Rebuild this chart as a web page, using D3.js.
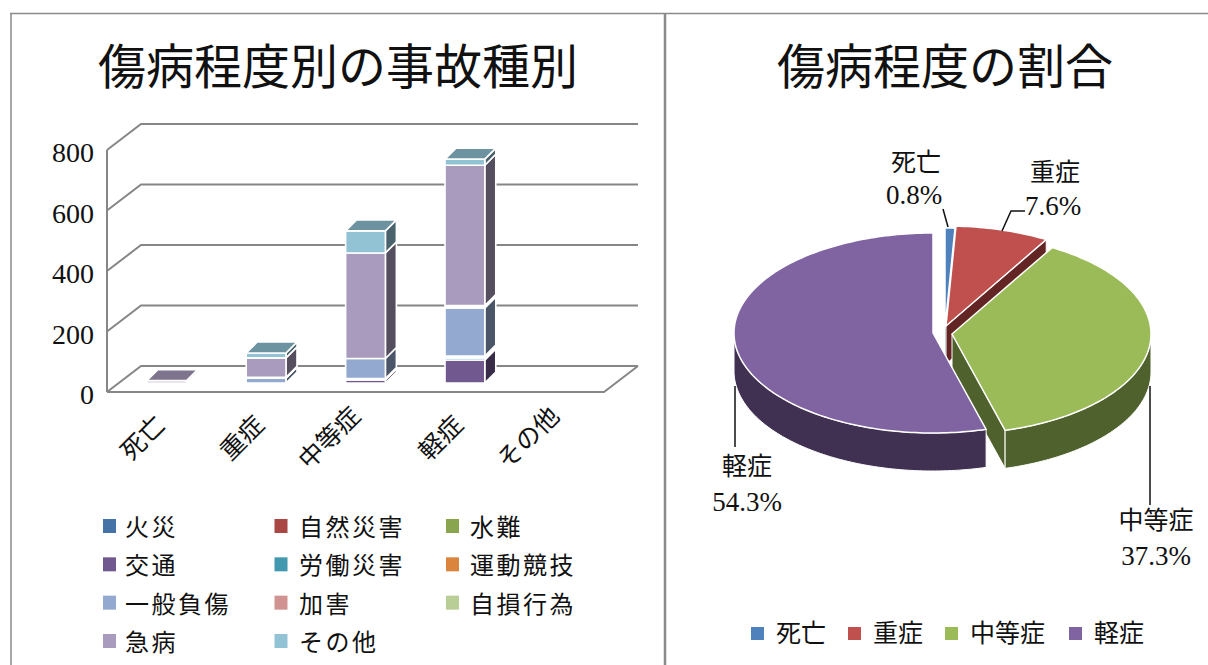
<!DOCTYPE html>
<html>
<head>
<meta charset="utf-8">
<script src="https://cdn.jsdelivr.net/npm/d3@7"></script>
<style>
  html, body { margin: 0; padding: 0; background: #fff; }
  svg { display: block; }
  text { font-family: "Liberation Serif", "Noto Sans CJK JP", serif; fill: #111; }
</style>
</head>
<body>
<div id="chart"></div>
<script>
// Data
const categories = ["死亡", "重症", "中等症", "軽症", "その他"];
const seriesNames = ["火災", "自然災害", "水難", "交通", "労働災害", "運動競技", "一般負傷", "加害", "自損行為", "急病", "その他"];
const seriesColors = ["#4572a7", "#aa4643", "#89a54e", "#71588f", "#4198af", "#db843d", "#93a9cf", "#d19392", "#b9cd96", "#a99bbd", "#91c3d5"];
// one row per series, one column per category
const fire =     [0, 0, 0, 0, 0];
const nature =   [0, 0, 0, 0, 0];
const water =    [0, 0, 0, 0, 0];
const traffic =  [0, 0, 10, 76, 0];
const labour =   [0, 0, 3, 7, 0];
const sports =   [0, 0, 2, 6, 0];
const general =  [0, 16, 66, 159, 0];
const assault =  [0, 1, 0, 3, 0];
const selfharm = [0, 2, 0, 5, 0];
const illness =  [8, 64, 349, 464, 0];
const other =    [0, 16, 73, 20, 0];
const seriesValues = [fire, nature, water, traffic, labour, sports, general, assault, selfharm, illness, other];
const yTicks = [0, 200, 400, 600, 800];

const pieNames = ["死亡", "重症", "中等症", "軽症"];
const pieValues = [0.8, 7.6, 37.3, 54.3];
const pieColors = ["#4f81bd", "#c0504d", "#9bbb59", "#8064a2"];
const pieWalls = ["#2c4a6e", "#632523", "#4f612c", "#403152"];

const svg = d3.select("#chart").append("svg")
  .attr("width", 1208)
  .attr("height", 665);

// Frame
const frame = svg.append("g").attr("stroke", "#8a8a8a").attr("stroke-width", 1.5);
frame.append("line").attr("x1", 10).attr("x2", 1208).attr("y1", 13.5).attr("y2", 13.5);
frame.append("line").attr("x1", 11).attr("x2", 11).attr("y1", 13).attr("y2", 665);
frame.append("line").attr("x1", 665).attr("x2", 665).attr("y1", 13).attr("y2", 665).attr("stroke-width", 2.5);

// Titles
svg.append("text").attr("x", 338).attr("y", 84).attr("text-anchor", "middle")
  .style("font-size", "48px").text("傷病程度別の事故種別");
svg.append("text").attr("x", 945).attr("y", 84).attr("text-anchor", "middle")
  .style("font-size", "48px").text("傷病程度の割合");

// ---- left chart, 3D stacked bars ----
const depthX = 34, depthY = 26;    // floor depth
const barDepth = 11;
const wallLeft = 107, wallRight = 604;

const yFront = d3.scaleLinear().domain([0, 800]).range([392, 150]);
const yBack = d3.scaleLinear().domain([0, 800]).range([392 - depthY, 150 - depthY]);
const yBar = d3.scaleLinear().domain([0, 800]).range([383, 141]);
const xBand = d3.scaleBand().domain(categories)
  .range([wallLeft + 10, wallRight + 10])
  .paddingInner(0.6).paddingOuter(0.3);

const grid = svg.append("g").attr("fill", "none").attr("stroke", "#868686").attr("stroke-width", 2);
yTicks.forEach(t => {
  grid.append("path").attr("d", d3.line()([
    [wallLeft, yFront(t)],
    [wallLeft + depthX, yBack(t)],
    [wallRight + depthX, yBack(t)]
  ]));
});
grid.append("line").attr("x1", wallLeft).attr("x2", wallLeft).attr("y1", yFront(800)).attr("y2", yFront(0));
grid.append("path").attr("d", d3.line()([
  [wallLeft, yFront(0)],
  [wallRight, yFront(0)],
  [wallRight + depthX, yBack(0)]
]));

// y axis
const yAxis = svg.append("g")
  .attr("transform", `translate(${wallLeft - 13},1.5)`)
  .call(d3.axisLeft(yFront).tickValues(yTicks).tickSize(0).tickPadding(0));
yAxis.select(".domain").remove();
yAxis.selectAll("text")
  .attr("dy", "0.36em")
  .style("font-size", "28px")
  .style("font-family", '"Liberation Serif", serif')
  .style("fill", "#111");

// stack
const stackRows = categories.map((c, i) => {
  const row = { category: c };
  seriesNames.forEach((s, j) => { row[j] = seriesValues[j][i]; });
  return row;
});
const stacked = d3.stack().keys(seriesNames.map((s, j) => j))(stackRows);
const barGroup = svg.append("g").attr("stroke", "#fff").attr("stroke-width", 1.6).attr("stroke-linejoin", "round");

categories.forEach((c, i) => {
  const x0 = xBand(c), x1 = x0 + xBand.bandwidth();
  const layers = stacked.map((layer, j) => ({ j, y0: layer[i][0], y1: layer[i][1] }))
    .filter(d => d.y1 > d.y0);
  layers.forEach((d, k) => {
    const color = d3.color(seriesColors[d.j]);
    const side = d3.rgb(color.r * 0.5, color.g * 0.5, color.b * 0.5);
    barGroup.append("path").attr("fill", side).attr("d", d3.line()([
      [x1, yBar(d.y0)],
      [x1 + barDepth, yBar(d.y0) - barDepth],
      [x1 + barDepth, yBar(d.y1) - barDepth],
      [x1, yBar(d.y1)]
    ]) + "Z");
    barGroup.append("rect").attr("fill", color)
      .attr("x", x0).attr("width", x1 - x0)
      .attr("y", yBar(d.y1)).attr("height", yBar(d.y0) - yBar(d.y1));
    if (k === layers.length - 1) {
      const top = d3.rgb(color.r * 0.75, color.g * 0.75, color.b * 0.75);
      barGroup.append("path").attr("fill", top).attr("d", d3.line()([
        [x0, yBar(d.y1)],
        [x0 + barDepth, yBar(d.y1) - barDepth],
        [x1 + barDepth, yBar(d.y1) - barDepth],
        [x1, yBar(d.y1)]
      ]) + "Z");
    }
  });
});

// category labels, rotated
categories.forEach(c => {
  const cx = xBand(c) + xBand.bandwidth() / 2 - 12 * c.length;
  svg.append("text")
    .attr("transform", `translate(${cx},438) rotate(-45)`)
    .attr("text-anchor", "middle")
    .attr("dominant-baseline", "central")
    .style("font-size", "25px")
    .text(c);
});

// legend
const legendCols = d3.scalePoint().domain([0, 1, 2]).range([103, 446]);
const legendRows = d3.scalePoint().domain([0, 1, 2, 3]).range([526, 641]);
const legendTextX = [125, 299, 470];
seriesNames.forEach((s, j) => {
  const col = j < 3 ? j : (j - 3) % 3;
  const row = j < 3 ? 0 : 1 + Math.floor((j - 3) / 3);
  svg.append("rect")
    .attr("x", legendCols(col)).attr("y", legendRows(row) - 7)
    .attr("width", 13).attr("height", 14)
    .attr("fill", seriesColors[j]);
  svg.append("text")
    .attr("x", legendTextX[col]).attr("y", legendRows(row) + 10)
    .style("font-size", "24px")
    .style("letter-spacing", "2.5px")
    .text(s);
});

// ---- right chart, exploded 3D pie ----
const pieCx = 933, pieCy = 333, rx = 199, ry = 100, pieDepth = 38;
const pieOffsets = [[12, -5], [13, -7], [19, 1], [0, 0]];

const slices = d3.pie().sort(null)(pieValues);
const toXY = (off, a, dz, r = 1) => [
  pieCx + off[0] + rx * r * Math.sin(a),
  pieCy + off[1] - ry * r * Math.cos(a) + dz
];
const arcAngles = (a0, a1) => {
  const n = Math.max(2, Math.ceil((a1 - a0) / 0.02));
  return d3.range(n + 1).map(k => a0 + (a1 - a0) * k / n);
};

const pieGroup = svg.append("g").attr("stroke-linejoin", "round");
slices.forEach((s, i) => {
  const off = pieOffsets[i];
  const apex = toXY(off, 0, 0, 0);
  const wallStyle = sel => sel.attr("fill", pieWalls[i]).attr("stroke", "#fff").attr("stroke-width", 1);

  // cut face towards the viewer
  if (i < 3) {
    const outer = toXY(off, s.endAngle, 0);
    pieGroup.append("path").call(wallStyle).attr("d", d3.line()([
      apex, outer, [outer[0], outer[1] + pieDepth], [apex[0], apex[1] + pieDepth]
    ]) + "Z");
  }

  // rim, only the front half shows
  const a0 = Math.max(s.startAngle, Math.PI / 2);
  const a1 = Math.min(s.endAngle, Math.PI * 1.5);
  if (a1 > a0) {
    const angles = arcAngles(a0, a1);
    const pts = angles.map(a => toXY(off, a, 0))
      .concat(angles.slice().reverse().map(a => toXY(off, a, pieDepth)));
    pieGroup.append("path").call(wallStyle).attr("d", d3.line()(pts) + "Z");
  }

  const top = [apex].concat(arcAngles(s.startAngle, s.endAngle).map(a => toXY(off, a, 0)));
  pieGroup.append("path")
    .attr("d", d3.line()(top) + "Z")
    .attr("fill", pieColors[i])
    .attr("stroke", "#fff")
    .attr("stroke-width", 1.5);
});

// labels and leaders
const pieLabelPos = [[916, 171, 914, 204], [1055, 181, 1053, 215], [1156, 529, 1156, 565], [747, 475, 747, 511]];
pieNames.forEach((n, i) => {
  const p = pieLabelPos[i];
  svg.append("text").attr("x", p[0]).attr("y", p[1]).attr("text-anchor", "middle")
    .style("font-size", "25px").text(n);
  svg.append("text").attr("x", p[2]).attr("y", p[3]).attr("text-anchor", "middle")
    .style("font-size", "27px").text(pieValues[i].toFixed(1) + "%");
});
const leaders = [
  [[943, 209], [948, 227]],
  [[1002, 231], [1011, 211], [1025, 211]],
  [[1150, 386], [1150, 505]],
  [[735, 386], [735, 447]]
];
leaders.forEach(l => {
  svg.append("path").attr("d", d3.line()(l))
    .attr("fill", "none").attr("stroke", "#111").attr("stroke-width", 1.5);
});

// pie legend
const pieLegendX = [751, 848, 945, 1069];
pieNames.forEach((n, i) => {
  svg.append("rect").attr("x", pieLegendX[i]).attr("y", 627)
    .attr("width", 13).attr("height", 13).attr("fill", pieColors[i]);
  svg.append("text").attr("x", pieLegendX[i] + 25).attr("y", 642)
    .style("font-size", "25px").text(n);
});
</script>
</body>
</html>
